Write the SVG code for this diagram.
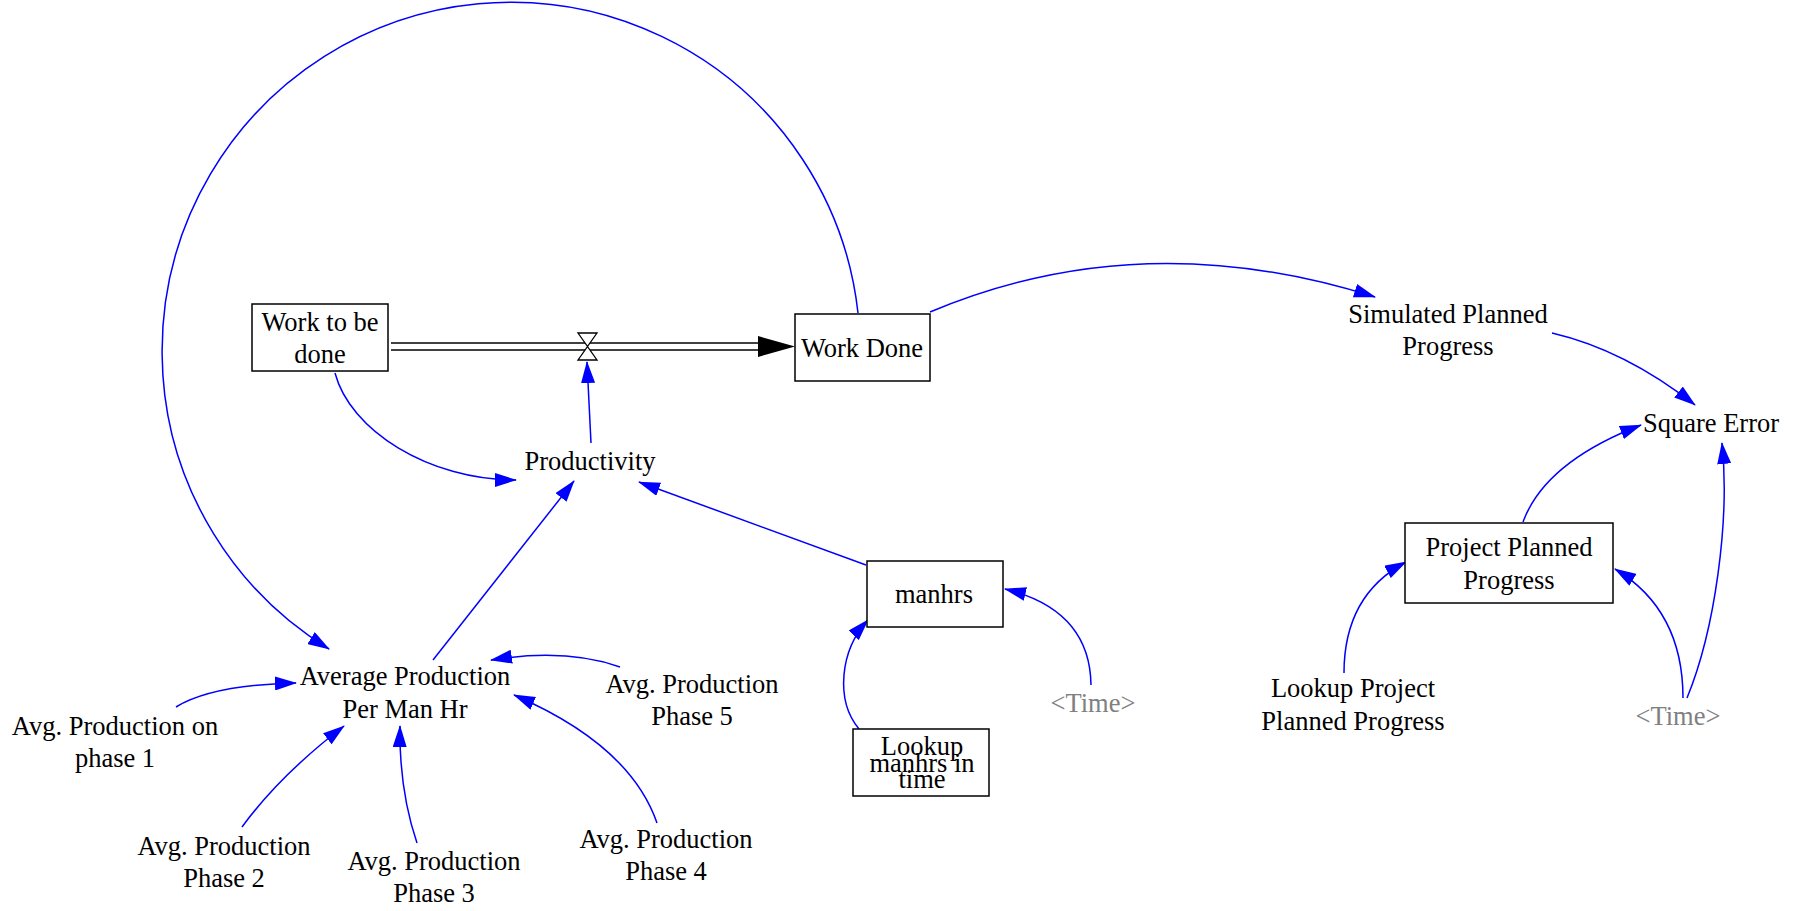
<svg xmlns="http://www.w3.org/2000/svg" width="1798" height="911" viewBox="0 0 1798 911">
<style>
text{font-family:"Liberation Serif","Times New Roman",serif;font-size:26.5px;fill:#000;text-anchor:middle}
.g{fill:#808080}
.box{fill:#fff;stroke:#000;stroke-width:1.5}
.link{fill:none;stroke:#0000ff;stroke-width:1.5;marker-end:url(#ah)}
.pipe{fill:none;stroke:#000;stroke-width:1.5}
</style>
<defs>
<marker id="ah" markerUnits="userSpaceOnUse" viewBox="0 0 22 14" refX="21" refY="7" markerWidth="22" markerHeight="14" orient="auto">
<path d="M0,0 L22,7 L0,14 z" fill="#0000ff"/>
</marker>
</defs>
<rect width="1798" height="911" fill="#fff"/>
<g id="connectors">
<path class="link" d="M858,313 A349,349 0 1 0 329,649"/>
<path class="link" d="M335,373 C350,430 428,480 516,480"/>
<path class="link" d="M591,443 L587,362"/>
<path class="link" d="M433,660 L574,481"/>
<path class="link" d="M866,565 L639,482"/>
<path class="link" d="M930,312 Q1141,223 1375,297"/>
<path class="link" d="M1552,333 Q1625,350 1695,405"/>
<path class="link" d="M1523,522 Q1545,462 1641,425"/>
<path class="link" d="M1344,673 Q1344,595 1406,562"/>
<path class="link" d="M1683,698 Q1683,610 1615,569"/>
<path class="link" d="M1687,698 C1715,630 1730,520 1722,443"/>
<path class="link" d="M1091,685 Q1090,610 1005,589"/>
<path class="link" d="M859,729 C835,700 840,650 868,620"/>
<path class="link" d="M176,707 Q212,685 296,683"/>
<path class="link" d="M242,827 Q280,775 344,726"/>
<path class="link" d="M417,843 Q399,790 400,726"/>
<path class="link" d="M657,823 Q630,745 514,695"/>
<path class="link" d="M620,667 Q566,648 491,660"/>
</g>
<g id="flow">
<line class="pipe" x1="391" y1="343" x2="760" y2="343"/>
<line class="pipe" x1="391" y1="350" x2="760" y2="350"/>
<path d="M758,336 L795,346.5 L758,357 z" fill="#000"/>
<path d="M578,333 L597,333 L587.5,346.5 L597,360 L578,360 L587.5,346.5 z" fill="#fff" stroke="#000" stroke-width="1.3"/>
</g>
<g id="work-to-be-done">
<rect class="box" x="252" y="304" width="136" height="67"/>
<text x="320" y="331">Work to be</text>
<text x="320" y="363">done</text>
</g>
<g id="work-done">
<rect class="box" x="795" y="314" width="135" height="67"/>
<text x="862" y="357">Work Done</text>
</g>
<g id="productivity"><text x="590" y="470">Productivity</text></g>
<g id="avg-prod-per-man-hr">
<text x="405" y="685">Average Production</text>
<text x="405" y="718">Per Man Hr</text>
</g>
<g id="phase1"><text x="115" y="735">Avg. Production on</text><text x="115" y="767">phase 1</text></g>
<g id="phase2"><text x="224" y="855">Avg. Production</text><text x="224" y="887">Phase 2</text></g>
<g id="phase3"><text x="434" y="870">Avg. Production</text><text x="434" y="902">Phase 3</text></g>
<g id="phase4"><text x="666" y="848">Avg. Production</text><text x="666" y="880">Phase 4</text></g>
<g id="phase5"><text x="692" y="693">Avg. Production</text><text x="692" y="725">Phase 5</text></g>
<g id="manhrs">
<rect class="box" x="867" y="561" width="136" height="66"/>
<text x="934" y="603">manhrs</text>
</g>
<g id="time1"><text class="g" x="1093" y="712">&lt;Time&gt;</text></g>
<g id="lookup-manhrs">
<rect class="box" x="853" y="729" width="136" height="67"/>
<text x="922" y="755">Lookup</text>
<text x="922" y="772">manhrs in</text>
<text x="922" y="788">time</text>
</g>
<g id="simulated-planned-progress">
<text x="1448" y="323">Simulated Planned</text>
<text x="1448" y="355">Progress</text>
</g>
<g id="square-error"><text x="1711" y="432">Square Error</text></g>
<g id="project-planned-progress">
<rect class="box" x="1405" y="523" width="208" height="80"/>
<text x="1509" y="556">Project Planned</text>
<text x="1509" y="589">Progress</text>
</g>
<g id="lookup-project"><text x="1353" y="697">Lookup Project</text><text x="1353" y="730">Planned Progress</text></g>
<g id="time2"><text class="g" x="1678" y="725">&lt;Time&gt;</text></g>
</svg>
